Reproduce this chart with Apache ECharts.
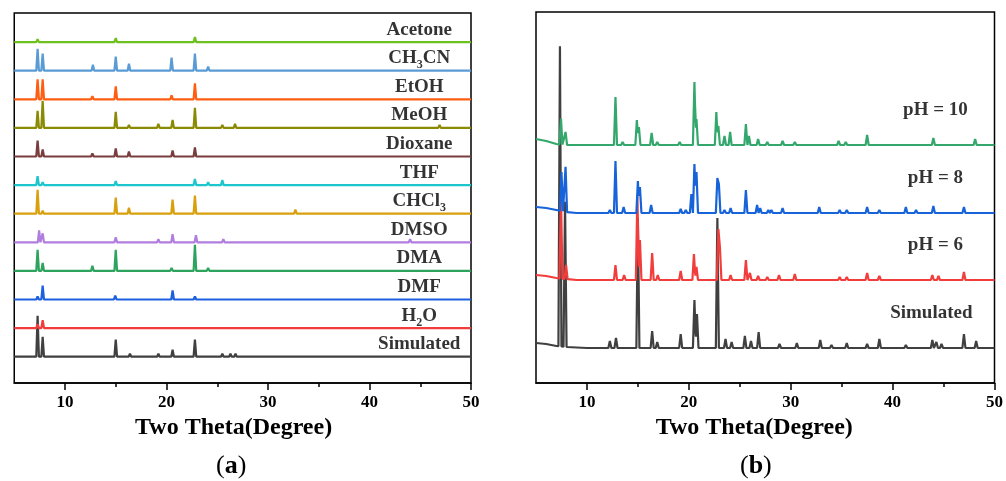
<!DOCTYPE html>
<html><head><meta charset="utf-8">
<script src="https://cdn.jsdelivr.net/npm/echarts@6/dist/echarts.min.js"></script>
<style>html,body{margin:0;padding:0;background:#fff}#c{width:1006px;height:481px}</style>
</head><body><div id="c"></div>
<script>
// ---------- axis ticks ----------
const xMajorTicks = [10, 20, 30, 40, 50];
const xMinorTicks = [15, 25, 35, 45];

// ---------- panel (a): peaks [2θ, intensity] ----------
const namesA  = ['Simulated', 'H2O', 'DMF', 'DMA', 'DMSO', 'CHCl3', 'THF', 'Dioxane', 'MeOH', 'EtOH', 'CH3CN', 'Acetone'];
const labelsA = ['Simulated', 'H{s|2}O', 'DMF', 'DMA', 'DMSO', 'CHCl{s|3}', 'THF', 'Dioxane', 'MeOH', 'EtOH', 'CH{s|3}CN', 'Acetone'];
const simA   = [[7.3,41],[7.8,20],[12.7,2],[15.0,17],[16.4,3],[19.2,3],[20.6,7],[22.8,17],[23.6,2],[25.5,3],[26.3,3],[26.8,3],[32.8,1],[38.7,2],[46.9,2]];
const h2oA   = [[7.3,4],[7.8,8],[12.7,1],[15.0,2],[16.4,2],[20.6,2],[22.8,1],[23.4,2]];
const dmfA   = [[7.3,3],[7.8,14],[12.6,2],[14.95,4],[16.8,1],[20.6,9],[22.8,3],[24.1,2],[25.5,2]];
const dmaA   = [[7.3,21],[7.8,8],[12.7,5],[15.0,21],[20.5,3],[22.8,26],[24.1,3],[25.4,1],[46.9,2]];
const dmsoA  = [[7.45,12],[7.8,9],[12.7,2],[15.0,5],[19.2,3],[20.6,8],[22.9,7],[25.6,3],[37.4,2],[44.0,3]];
const chcl3A = [[7.3,24],[7.8,3],[12.6,1],[15.0,16],[16.3,6],[19.2,2],[20.6,14],[22.8,18],[24.1,2],[25.9,2],[32.7,4],[34.6,2],[35.4,2],[38.7,1]];
const thfA   = [[7.3,9],[7.8,3],[15.0,4],[16.7,1],[20.5,2],[22.8,6],[24.1,3],[25.5,5],[28.2,2]];
const dioxA  = [[7.3,16],[7.8,7],[12.7,3],[15.0,8],[16.3,5],[20.6,6],[22.8,9]];
const meohA  = [[7.3,17],[7.8,27],[15.0,16],[16.3,3],[16.8,2],[19.2,4],[20.6,8],[22.8,20],[24.1,2],[25.5,3],[26.75,4],[38.7,2],[46.9,3]];
const etohA  = [[7.3,20],[7.8,20],[12.7,3],[15.0,13],[20.5,4],[22.8,16],[37.4,2],[46.9,1]];
const ch3cnA = [[7.3,22],[7.8,17],[12.75,6],[15.0,14],[16.3,7],[19.2,1],[20.5,13],[22.8,17],[24.1,4],[25.5,2],[27.7,1],[35.9,1],[37.4,1],[38.7,1],[46.9,2]];
const acetA  = [[7.3,3],[7.8,2],[12.7,1],[15.0,4],[20.5,2],[22.8,5],[24.1,1],[46.9,2]];
const peaksA = [simA, h2oA, dmfA, dmaA, dmsoA, chcl3A, thfA, dioxA, meohA, etohA, ch3cnA, acetA];

// ---------- panel (b) ----------
const namesB  = ['Simulated', 'pH = 6', 'pH = 8', 'pH = 10'];
const simB  = [[7.35,300],[7.85,145],[12.25,7],[12.85,10],[15.0,130],[16.4,17],[16.9,6],[19.2,14],[20.55,48],[20.8,34],[22.8,130],[23.6,9],[24.2,6],[25.5,12],[26.1,7],[26.85,16],[28.9,4],[30.6,5],[32.9,8],[34.0,3],[35.5,5],[37.5,4],[38.7,9],[41.3,3],[43.9,8],[44.3,6],[44.8,4],[47.0,14],[48.2,7]];
const ph6B  = [[7.45,80],[7.95,14],[12.8,15],[13.65,5],[14.95,85],[15.2,40],[16.4,27],[16.95,5],[19.2,9],[20.5,26],[20.75,13],[22.9,51],[23.05,33],[24.1,5],[25.6,20],[26.0,7],[26.8,4],[27.7,3],[28.85,5],[30.4,6],[32.8,2],[34.8,3],[35.5,3],[37.5,7],[38.7,4],[43.9,5],[44.5,4],[47.0,8],[48.2,2]];
const ph8B  = [[7.5,39],[7.9,45],[12.25,3],[12.8,52],[13.6,6],[15.0,32],[15.2,26],[16.3,8],[19.2,4],[19.7,3],[20.25,19],[20.55,49],[20.75,41],[22.8,35],[22.95,29],[23.5,3],[24.1,5],[25.6,23],[26.7,8],[27.0,5],[27.8,3],[28.1,3],[29.2,5],[30.5,2],[32.8,6],[34.8,3],[35.5,3],[37.5,6],[38.7,3],[41.3,6],[42.3,3],[44.0,7],[47.0,6],[48.2,2]];
const ph10B = [[7.45,26],[7.9,13],[12.8,48],[13.5,3],[14.9,25],[15.1,18],[16.35,12],[16.9,3],[19.1,3],[20.55,63],[20.75,26],[22.7,33],[22.9,19],[23.5,9],[24.05,13],[25.6,21],[25.9,9],[26.8,6],[27.7,3],[29.2,4],[30.4,3],[34.7,4],[35.4,3],[37.5,10],[38.9,2],[42.3,2],[44.0,7],[46.4,2],[48.1,6]];
const peaksB = [simB, ph6B, ph8B, ph10B];
// low-angle background rise [2θ, intensity]
const bgSimB  = [[5,5],[6,4],[7,2],[8,1],[10,0]];
const bgPh6B  = [[5,5],[6,4],[7,2],[8,1],[9,0]];
const bgPh8B  = [[5,6],[6,5],[7,3],[8,1],[9,0]];
const bgPh10B = [[5,6],[6,4],[7,1],[8,0]];
const bgB = [bgSimB, bgPh6B, bgPh8B, bgPh10B];

// ---------- styles ----------
const colorsA = ['#404040','#f23b3b','#1c5fdf','#2ea35e','#b17ee0','#d8a00c','#1cc6cc','#7a3d3d','#8a8a05','#ff5e12','#5b9bd5','#6cc11e'];
const colorsB = ['#404040','#f23d3d','#1763d9','#34a86c'];
const serif = 'Liberation Serif';

function interp(bg, x) {
  if (!bg || !bg.length) return 0;
  if (x <= bg[0][0]) return bg[0][1];
  for (let i = 1; i < bg.length; i++) {
    if (x <= bg[i][0]) {
      const [x0, y0] = bg[i-1], [x1, y1] = bg[i];
      return y0 + (y1 - y0) * (x - x0) / (x1 - x0);
    }
  }
  return bg[bg.length-1][1];
}
function profile(peaks, bg, w, off) {
  const xs = new Set([5, 50]);
  peaks.forEach(([p]) => { xs.add(+(p-w).toFixed(3)); xs.add(p); xs.add(+(p+w).toFixed(3)); });
  (bg || []).forEach(([x]) => xs.add(x));
  return [...xs].sort((a,b)=>a-b).map(x => {
    let y = 0;
    peaks.forEach(([p,h]) => { const t = 1 - Math.abs(x-p)/w; if (t > 0) y = Math.max(y, h*t); });
    return [x, off + y + interp(bg, x)];
  });
}

// vertical stacking
const offA0 = 26.3, stepA = 28.6;
const offB = [35, 103, 170, 238];

const series = [];
peaksA.forEach((pk, i) => {
  series.push({ type:'line', name:namesA[i], xAxisIndex:0, yAxisIndex:0, data: profile(pk, null, 0.13, offA0 + i*stepA),
    showSymbol:false, symbol:'none', lineStyle:{ color:colorsA[i], width:2.2 }, silent:true, animation:false });
});
peaksB.forEach((pk, i) => {
  series.push({ type:'line', name:namesB[i], xAxisIndex:2, yAxisIndex:1, data: profile(pk, bgB[i], 0.15, offB[i]),
    showSymbol:false, symbol:'none', lineStyle:{ color:colorsB[i], width:2.2 }, silent:true, animation:false });
});
const richSub = { s: { fontFamily: serif, fontWeight:'bold', fontSize: 12, color:'#000', verticalAlign:'bottom', lineHeight: 26 } };
const lblStyle = { show:true, position:'inside', fontFamily: serif, fontWeight:'bold', fontSize:19, color:'#000', rich: richSub };
series.push({ type:'scatter', xAxisIndex:0, yAxisIndex:0, symbolSize:0, silent:true, animation:false, z:10,
  data: labelsA.map((t, i) => ({ value:[44.9, offA0 + i*stepA + 12.5], label: Object.assign({}, lblStyle, { formatter: t }) })) });
series.push({ type:'scatter', xAxisIndex:2, yAxisIndex:1, symbolSize:0, silent:true, animation:false, z:10,
  data: namesB.map((t, i) => ({ value:[i === 0 ? 43.8 : 44.2, offB[i] + 35], label: Object.assign({}, lblStyle, { formatter: t }) })) });

function xMain(grid, shift) {
  return { type:'value', gridIndex:grid, min:5, max:50, position:'bottom',
    axisLine:{ show:true, onZero:false, lineStyle:{ color:'#000', width:1.5 } },
    axisTick:{ show:true, customValues:xMajorTicks, length:7, lineStyle:{ color:'#000', width:1.5 } },
    axisLabel:{ customValues:xMajorTicks, fontFamily:serif, fontWeight:'bold', fontSize:17, color:'#000', margin:11 },
    splitLine:{ show:false },
    name:'Two Theta(Degree)', nameLocation:'middle', nameGap:32,
    nameTextStyle:{ fontFamily:serif, fontWeight:'bold', fontSize:24, color:'#000', padding:[0, shift, 0, 0] } };
}
function xMinor(grid) {
  return { type:'value', gridIndex:grid, min:5, max:50, position:'bottom',
    axisLine:{ show:false }, axisTick:{ show:true, customValues:xMinorTicks, length:4, lineStyle:{ color:'#000', width:1.5 } },
    axisLabel:{ show:false }, splitLine:{ show:false } };
}
function yAx(grid, max) {
  return { type:'value', gridIndex:grid, min:0, max:max, axisLine:{ show:false }, axisTick:{ show:false }, axisLabel:{ show:false }, splitLine:{ show:false } };
}

const option = {
  backgroundColor:'#fff',
  animation:false,
  grid:[
    { left:14.25, top:13, width:456.75, height:370, show:true, borderColor:'#000', borderWidth:1.5, backgroundColor:'transparent' },
    { left:536, top:12, width:459, height:371, show:true, borderColor:'#000', borderWidth:1.5, backgroundColor:'transparent' }
  ],
  xAxis:[ xMain(0, 18), xMinor(0), xMain(1, 22), xMinor(1) ],
  yAxis:[ yAx(0, 370), yAx(1, 371) ],
  graphic:[
    { type:'text', left:233 - 17, top:453, style:{ text:'({b|a})', font:'26px "Liberation Serif"', fill:'#000', rich:{ b:{ fontFamily:serif, fontWeight:'bold', fontSize:26 } } } },
    { type:'text', left:757 - 17, top:453, style:{ text:'({b|b})', font:'26px "Liberation Serif"', fill:'#000', rich:{ b:{ fontFamily:serif, fontWeight:'bold', fontSize:26 } } } }
  ],
  series
};
const chart = echarts.init(document.getElementById('c'), null, { renderer:'canvas' });
chart.setOption(option);
</script>
</body></html>
